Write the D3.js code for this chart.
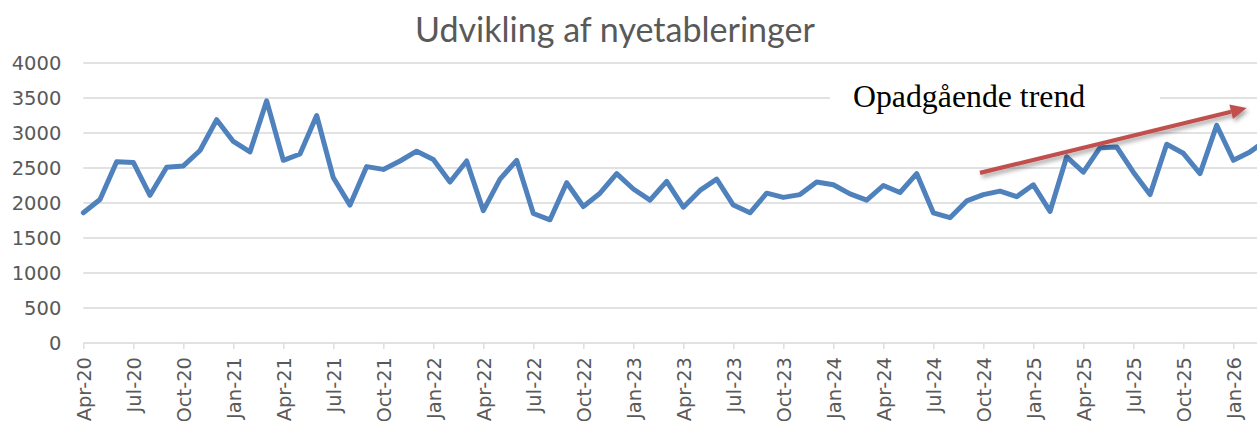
<!DOCTYPE html>
<html>
<head>
<meta charset="utf-8">
<script src="https://cdn.jsdelivr.net/npm/d3@7"></script>
<style>
  html, body { margin: 0; padding: 0; background: #ffffff; overflow: hidden; }
  svg { display: block; }
</style>
</head>
<body>
<svg id="chart" width="1257" height="421"></svg>
<script>
// ---- data ----
const titleText = "Udvikling af nyetableringer";
const annotationText = "Opadgående trend";
const firstMonth = new Date(2020, 3, 1);   // Apr-20
const lastMonth = new Date(2026, 2, 1);    // Mar-26
const values = [
  1860, 2050, 2590, 2580, 2110, 2510, 2530, 2750, 3190,       // Apr-20 .. Dec-20
  2880, 2730, 3460, 2610, 2700, 3250, 2360, 1970, 2520, 2480, 2600, 2740, // 2021
  2620, 2300, 2600, 1890, 2340, 2610, 1850, 1760, 2290, 1950, 2140, 2420, // 2022
  2200, 2040, 2310, 1940, 2180, 2340, 1970, 1860, 2140, 2080, 2120, 2300, // 2023
  2260, 2130, 2040, 2250, 2150, 2420, 1860, 1790, 2030, 2120, 2170, 2090, // 2024
  2260, 1880, 2660, 2440, 2790, 2800, 2440, 2120, 2840, 2710, 2420, 3110, // 2025
  2610, 2730, 2900                                                        // 2026
];
const yTicks = [0, 500, 1000, 1500, 2000, 2500, 3000, 3500, 4000];
// trend arrow, in (month index, value) units
const trendStart = [53.8, 2430];
const trendEnd = [69.8, 3357];

// ---- build ----
const fmt = d3.timeFormat("%b-%y");
const months = d3.timeMonth.range(firstMonth, d3.timeMonth.offset(lastMonth, 1)).map(fmt);
const tickLabels = months.filter((m, i) => i % 3 === 0);

const svg = d3.select("#chart");
const W = 1257, H = 421;
const left = 83.33, step = 16.667;
const x = d3.scalePoint().domain(months).range([left, left + step * (months.length - 1)]);
const y = d3.scaleLinear().domain([0, 4000]).range([343, 63]);
const xi = i => x(months[0]) + i * x.step();

const defs = svg.append("defs");
const f = defs.append("filter").attr("id", "shadow").attr("x", "-10%").attr("y", "-50%").attr("width", "130%").attr("height", "250%");
f.append("feDropShadow").attr("dx", 2).attr("dy", 3).attr("stdDeviation", 2).attr("flood-color", "#000").attr("flood-opacity", 0.35);

// gridlines
svg.append("g").selectAll("line").data(yTicks.filter(d => d > 0)).join("line")
  .attr("x1", left).attr("x2", W + 20)
  .attr("y1", d => y(d)).attr("y2", d => y(d))
  .attr("stroke", "#d9d9d9").attr("stroke-width", 1.3);

// x axis
const xAxis = svg.append("g").attr("transform", `translate(0,${y(0)})`)
  .call(d3.axisBottom(x).tickValues(tickLabels).tickSize(6).tickSizeOuter(0));
xAxis.select(".domain").attr("stroke", "#d9d9d9").attr("stroke-width", 1.3)
  .attr("d", `M${left},0H${W + 20}`);
xAxis.selectAll(".tick line").attr("stroke", "#d9d9d9").attr("stroke-width", 1.3);
xAxis.selectAll(".tick text")
  .attr("fill", "#595959")
  .style("font-family", "'DejaVu Sans', sans-serif")
  .style("font-size", "19.5px")
  .attr("text-anchor", "end")
  .attr("transform", "rotate(-90)")
  .attr("x", -14).attr("y", 0).attr("dy", "0.36em");

// y axis labels
const yAxis = svg.append("g").attr("transform", `translate(${left},0)`)
  .call(d3.axisLeft(y).tickValues(yTicks).tickSize(0).tickPadding(22).tickFormat(d3.format("d")));
yAxis.select(".domain").remove();
yAxis.selectAll(".tick text")
  .attr("fill", "#595959")
  .style("font-family", "'DejaVu Sans', sans-serif")
  .style("font-size", "19.5px");

// line
svg.append("path").datum(values)
  .attr("fill", "none").attr("stroke", "#4f81bd").attr("stroke-width", 5)
  .attr("stroke-linejoin", "round").attr("stroke-linecap", "round")
  .attr("d", d3.line().x((d, i) => x(months[i])).y(d => y(d)));

// annotation text box
svg.append("rect").attr("x", 830).attr("y", 76).attr("width", 330).attr("height", 44).attr("fill", "#ffffff");
svg.append("text").attr("x", 853).attr("y", 106.5)
  .style("font-family", "'Liberation Serif', 'Times New Roman', serif")
  .style("font-size", "31.8px").attr("fill", "#000")
  .text(annotationText);

// trend arrow
const x0 = xi(trendStart[0]), y0 = y(trendStart[1]);
const x1 = xi(trendEnd[0]), y1 = y(trendEnd[1]);
const ang = Math.atan2(y1 - y0, x1 - x0);
const headLen = 16, headW = 7.5;
const bx = x1 - headLen * Math.cos(ang), by = y1 - headLen * Math.sin(ang);
const arrow = svg.append("g").attr("filter", "url(#shadow)");
arrow.append("line").attr("x1", x0).attr("y1", y0).attr("x2", bx).attr("y2", by)
  .attr("stroke", "#c0504d").attr("stroke-width", 4.2);
arrow.append("path")
  .attr("d", `M${x1},${y1}L${bx + headW * Math.sin(ang)},${by - headW * Math.cos(ang)}L${bx - headW * Math.sin(ang)},${by + headW * Math.cos(ang)}Z`)
  .attr("fill", "#c0504d");

// title
const title = svg.append("text").attr("x", 615).attr("y", 42)
  .attr("text-anchor", "middle").attr("fill", "#595959")
  .style("font-family", "Lato, 'Open Sans', sans-serif")
  .style("font-size", "33px")
  .text(titleText);
const tw = title.node().getComputedTextLength();
title.style("font-size", (33 * 400 / tw).toFixed(2) + "px");
</script>
</body>
</html>
